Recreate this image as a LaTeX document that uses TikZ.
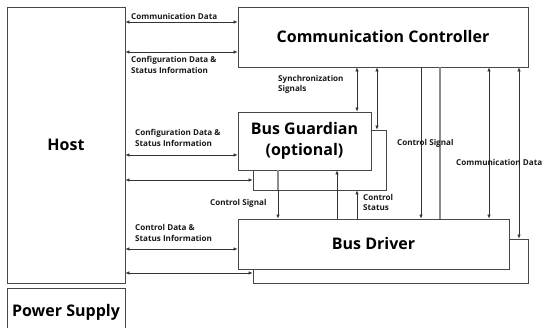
\documentclass[tikz,border=0pt]{standalone}
\usepackage{fontspec}
\setmainfont{Open Sans}
\usetikzlibrary{arrows.meta}
\begin{document}
\begin{tikzpicture}[x=1pt,y=-1pt,
  box/.style={draw=black!72, line width=0.8pt, fill=white, inner sep=0pt, font=\bfseries\fontsize{16}{21}\selectfont, align=center},
  conn/.style={draw=black!80, line width=0.7pt},
  gconn/.style={draw=black!45, line width=1.1pt},
  dar/.style={conn, {Latex[length=4pt,width=3.6pt]}-{Latex[length=4pt,width=3.6pt]}},
  rar/.style={conn, -{Latex[length=4pt,width=3.6pt]}},
  lbl/.style={font=\bfseries\fontsize{8.1}{10.5}\selectfont, align=left, anchor=west, inner sep=0pt, text=black!90}]
\useasboundingbox (0,0) rectangle (542,328);
% boxes
\node[box, minimum width=118pt, minimum height=276pt] (host) at (66,145) {Host};
\node[box, minimum width=118pt, minimum height=48pt] (ps) at (66,312) {Power Supply};
\node[box, minimum width=290pt, minimum height=60pt] (cc) at (383,37) {Communication Controller};
\node[box, minimum width=133pt, minimum height=60pt] (bgb) at (319.5,160) {};
\node[box, minimum width=133pt, minimum height=58pt] (bg) at (304.5,141) {Bus Guardian\\(optional)};
\node[box, minimum width=275pt, minimum height=44pt] (bdb) at (390.5,261) {};
\node[box, minimum width=271pt, minimum height=50pt] (bd) at (373.5,244) {Bus Driver};
% host connectors
\draw[dar] (host.east |- 0,22) -- (cc.west |- 0,22);
\draw[dar] (host.east |- 0,52) -- (cc.west |- 0,52);
\draw[dar] (host.east |- 0,155) -- (bg.west |- 0,155);
\draw[dar] (host.east |- 0,180) -- (bgb.west |- 0,180);
\draw[dar] (host.east |- 0,249) -- (bd.west |- 0,249);
\draw[dar] (host.east |- 0,273) -- (bdb.west |- 0,273);
% CC to BG
\draw[dar] (cc.south -| 357,0) -- (bg.north -| 357,0);
\draw[dar] (cc.south -| 377,0) -- (bgb.north -| 377,0);
% CC to BD
\draw[rar] (cc.south -| 421,0) -- (bd.north -| 421,0);
\draw[gconn] (cc.south -| 440,0) -- (bd.north -| 440,0);
\draw[dar] (cc.south -| 489,0) -- (bd.north -| 489,0);
\draw[dar] (cc.south -| 519,0) -- (bdb.north -| 519,0);
% BG to BD
\draw[gconn] (bg.south -| 278,0) -- (bgb.south -| 278,0);
\draw[rar] (bgb.south -| 278,0) -- (bd.north -| 278,0);
\draw[rar] (bd.north -| 337,0) -- (bg.south -| 337,0);
\draw[rar] (bd.north -| 357,0) -- (bgb.south -| 357,0);
% labels
\node[lbl] (l1) at (131,16) {Communication Data};
\node[lbl] (l2) at (131,65) {Configuration Data \&\\Status Information};
\node[lbl] (l3) at (278,84.5) {Synchronization\\Signals};
\node[lbl] (l4) at (135,138) {Configuration Data \&\\Status Information};
\node[lbl] (l5) at (397,143) {Control Signal};
\node[lbl] (l6) at (456,162) {Communication Data};
\node[lbl] (l7) at (210,203) {Control Signal};
\node[lbl] (l8) at (363,202.5) {Control\\Status};
\node[lbl] (l9) at (135,233) {Control Data \&\\Status Information};
\end{tikzpicture}
\end{document}
